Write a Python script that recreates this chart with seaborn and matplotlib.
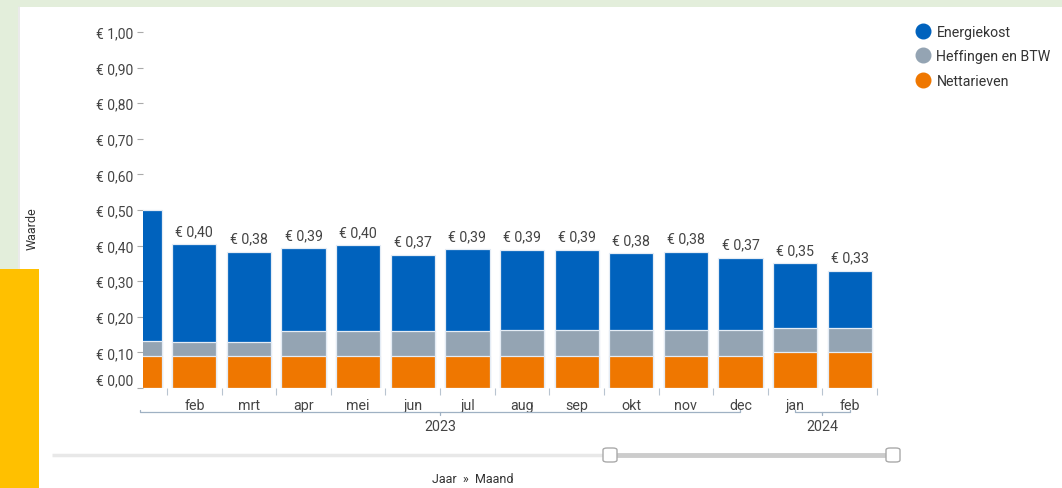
import numpy as np
import pandas as pd
import matplotlib
matplotlib.use("Agg")
import matplotlib.pyplot as plt
import matplotlib.transforms as mtransforms
from matplotlib.patches import Rectangle, FancyBboxPatch
from matplotlib.lines import Line2D
import seaborn as sns

# ---- data -------------------------------------------------------------
periods = ["2023-01", "2023-02", "2023-03", "2023-04", "2023-05", "2023-06", "2023-07",
           "2023-08", "2023-09", "2023-10", "2023-11", "2023-12", "2024-01", "2024-02"]
month_labels = ["jan", "feb", "mrt", "apr", "mei", "jun", "jul",
                "aug", "sep", "okt", "nov", "dec", "jan", "feb"]
years = ["2023"] * 12 + ["2024"] * 2
nettarieven = [0.090, 0.090, 0.090, 0.090, 0.090, 0.090, 0.090,
               0.090, 0.090, 0.090, 0.090, 0.090, 0.100, 0.100]
heffingen = [0.042, 0.039, 0.038, 0.070, 0.070, 0.070, 0.070,
             0.072, 0.072, 0.072, 0.072, 0.073, 0.068, 0.068]
energiekost = [0.368, 0.275, 0.254, 0.233, 0.241, 0.214, 0.230,
               0.226, 0.226, 0.216, 0.220, 0.203, 0.182, 0.162]
y_ticks = [0.0, 0.1, 0.2, 0.3, 0.4, 0.5, 0.6, 0.7, 0.8, 0.9, 1.0]
series_names = ["Energiekost", "Heffingen en BTW", "Nettarieven"]

# ---- style --------------------------------------------------------------
sns.set_theme(style="white")
plt.rcParams["font.family"] = ["Roboto", "DejaVu Sans"]

C_BLUE = "#0062bd"
C_GREY = "#94a4b3"
C_ORANGE = "#ef7700"
C_TEXT = "#444444"

W, H = 1062, 489
fig = plt.figure(figsize=(W / 100, H / 100), dpi=100)
fig.patch.set_facecolor("#e3eedb")

# white card and the yellow block on the left
fig.patches.append(Rectangle((18 / W, 0), 1.0, 1 - 8 / H, transform=fig.transFigure,
                             facecolor="white", edgecolor="none", zorder=0))
fig.add_artist(Line2D([19 / W, 19 / W], [0, 1 - 8 / H], transform=fig.transFigure,
                      color="#e6e6e6", lw=1.2, zorder=1))
fig.patches.append(Rectangle((0, 0), 39 / W, 219 / H, transform=fig.transFigure,
                             facecolor="#ffc000", edgecolor="none", zorder=2))

ax = fig.add_axes([143 / W, (H - 389) / H, 734 / W, 356 / H])
ax.set_zorder(4)
ax.set_facecolor("none")

df = pd.DataFrame({
    "periode": periods,
    "net": nettarieven,
    "heff": heffingen,
    "energie": energiekost,
})
df["grey_top"] = df["net"] + df["heff"]
df["totaal"] = df["grey_top"] + df["energie"]

bar_w = 0.81
edge = dict(edgecolor="#e4ecf5", linewidth=0.9)
sns.barplot(data=df, x="periode", y="totaal", order=periods, color=C_BLUE,
            saturation=1, width=bar_w, ax=ax, **edge)
sns.barplot(data=df, x="periode", y="grey_top", order=periods, color=C_GREY,
            saturation=1, width=bar_w, ax=ax, **edge)
sns.barplot(data=df, x="periode", y="net", order=periods, color=C_ORANGE,
            saturation=1, width=bar_w, ax=ax, **edge)

x_left, x_right = 0.06, len(periods) - 0.5
ax.set_xlim(x_left, x_right)
ax.set_ylim(0, 1.0)
for s in ax.spines.values():
    s.set_visible(False)
ax.set_xlabel("")
ax.set_ylabel("")

# value labels above the bars
for i, tot in enumerate(df["totaal"]):
    if i < x_left:
        continue
    ax.annotate(f"€ {tot:.2f}".replace(".", ","), (i, tot), xytext=(0, 4.5),
                textcoords="offset points", ha="center", va="bottom",
                fontsize=10.2, color=C_TEXT)

# y axis
ax.set_yticks(y_ticks)
ax.set_yticklabels([f"€ {v:.2f}".replace(".", ",") for v in y_ticks])
ax.tick_params(axis="y", left=True, length=4, width=0.8, color="#aaaaaa",
               pad=3, labelsize=10, labelcolor=C_TEXT)
zero_lab = ax.yaxis.get_major_ticks()[0].label1
zero_lab.set_transform(zero_lab.get_transform() +
                       mtransforms.ScaledTranslation(0, 9 / 100, fig.dpi_scale_trans))

# x axis: month names at bar centres, tick marks at bar boundaries
centers = list(range(1, len(periods)))
ax.set_xticks(centers)
ax.set_xticklabels(month_labels[1:])
ax.tick_params(axis="x", bottom=True, length=0, pad=7.5, labelsize=10.3, labelcolor=C_TEXT)
ax.set_xticks(np.arange(0.5, len(periods), 1.0), minor=True)
ax.tick_params(axis="x", which="minor", bottom=True, length=5, width=0.8, color="#b8c4d0")

# year brackets below the month labels
tr = mtransforms.blended_transform_factory(ax.transData, ax.transAxes)
px = 1 / 356
y_br = -24 * px
br_col = "#9fb1c3"
for yr in ["2023", "2024"]:
    idx = [i for i, y in enumerate(years) if y == yr]
    a, b = idx[0], idx[-1]
    mid = (a + b) / 2
    ax.plot([a, a, b, b], [y_br + 2 * px, y_br, y_br, y_br + 2 * px], transform=tr,
            color=br_col, lw=0.9, clip_on=False)
    ax.plot([mid, mid], [y_br, y_br - 3 * px], transform=tr, color=br_col, lw=0.9,
            clip_on=False)
    ax.text(mid, y_br - 14 * px, yr, transform=tr, ha="center", va="center",
            fontsize=10.3, color=C_TEXT)

# axis title
fig.text(32 / W, 1 - 229 / H, "Waarde", rotation=90, ha="center", va="center",
         fontsize=9, color="#333333")

# legend
handles = [Line2D([], [], marker="o", linestyle="none", markersize=10.5,
                  markerfacecolor=c, markeredgecolor=c)
           for c in (C_BLUE, C_GREY, C_ORANGE)]
fig.legend(handles, series_names, loc="upper left",
           bbox_to_anchor=(906 / W, 1 - 20 / H), frameon=False, fontsize=10.2,
           labelspacing=0.74, handletextpad=0.15, handlelength=1.6,
           labelcolor="#333333", borderaxespad=0)

# range slider below the chart
y_sl = 1 - 456 / H
fig.add_artist(Line2D([52 / W, 893 / W], [y_sl, y_sl], transform=fig.transFigure,
                      color="#e8e8e8", lw=2.5, solid_capstyle="butt"))
fig.add_artist(Line2D([610 / W, 893 / W], [y_sl, y_sl], transform=fig.transFigure,
                      color="#cccccc", lw=3.5, solid_capstyle="butt"))
for hx in (610, 893):
    fig.patches.append(FancyBboxPatch(((hx - 7) / W, y_sl - 7 / H), 14 / W, 14 / H,
                                      boxstyle="round,pad=0,rounding_size=0.004",
                                      transform=fig.transFigure, facecolor="white",
                                      edgecolor="#aaaaaa", linewidth=1.0, zorder=5))
fig.text(473 / W, 1 - 480 / H, "Jaar  »  Maand", ha="center", va="center",
         fontsize=9, color="#333333")

fig.savefig("out.png", dpi=100, facecolor=fig.get_facecolor())
